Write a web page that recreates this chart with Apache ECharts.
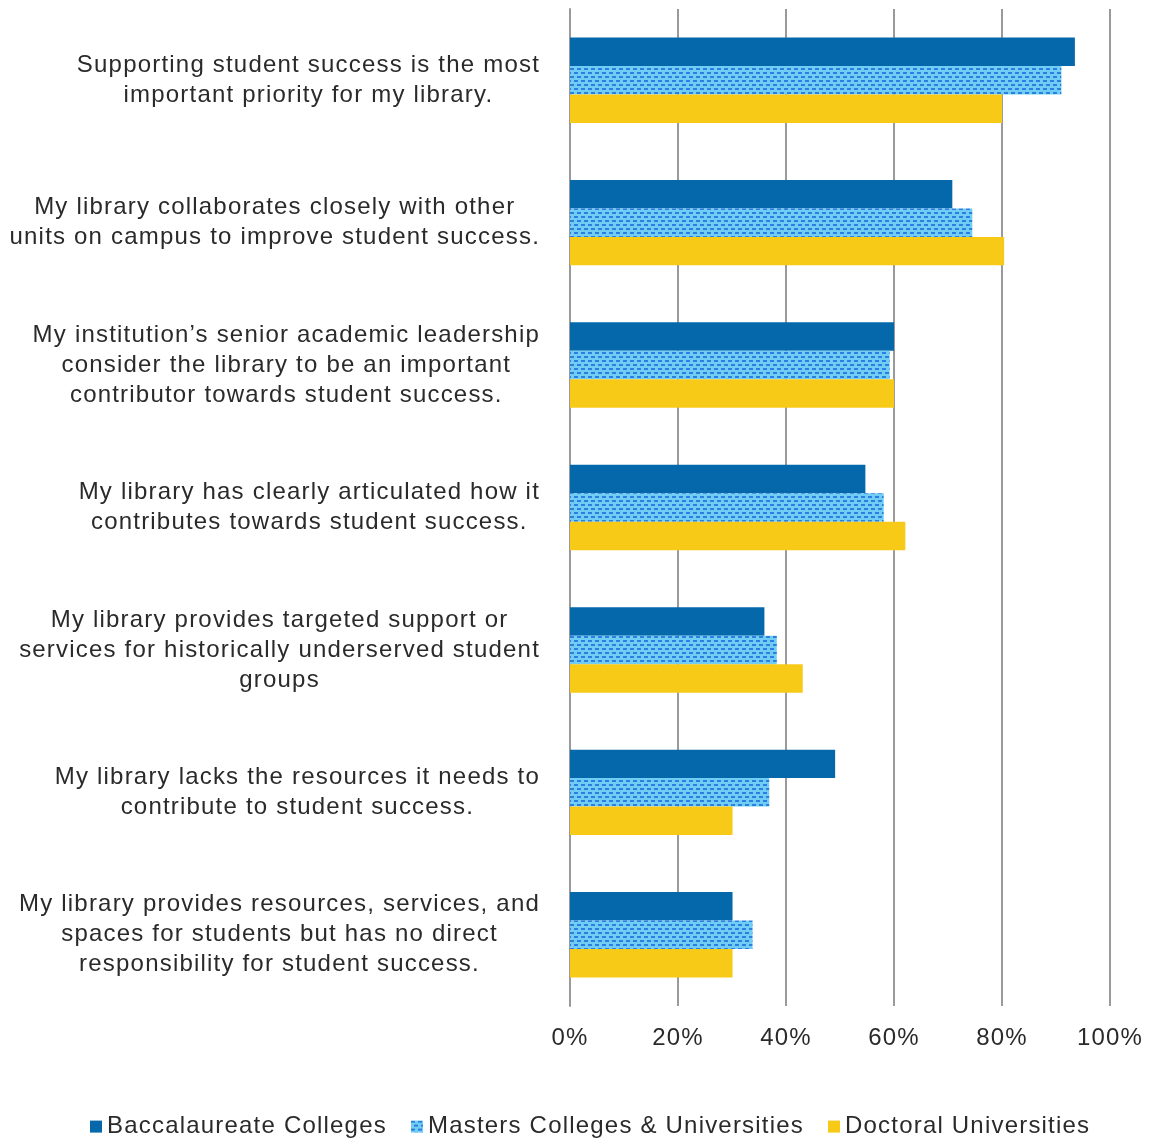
<!DOCTYPE html>
<html><head><meta charset="utf-8">
<script src="https://cdn.jsdelivr.net/npm/echarts@6/dist/echarts.min.js"></script>
<style>html,body{margin:0;padding:0;background:#fff}#c{width:1151px;height:1141px}</style>
</head><body><div id="c"></div>
<script>
const categories = [
  "Supporting student success is the most\nimportant priority for my library.",
  "My library collaborates closely with other\nunits on campus to improve student success.",
  "My institution\u2019s senior academic leadership\nconsider the library to be an important\ncontributor towards student success.",
  "My library has clearly articulated how it\ncontributes towards student success.",
  "My library provides targeted support or\nservices for historically underserved student\ngroups",
  "My library lacks the resources it needs to\ncontribute to student success.",
  "My library provides resources, services, and\nspaces for students but has no direct\nresponsibility for student success."
];
const seriesNames = ["Baccalaureate Colleges", "Masters Colleges & Universities", "Doctoral Universities"];
const baccalaureate = [93.5, 70.8, 60.0, 54.7, 36.0, 49.1, 30.1];
const masters = [91.0, 74.5, 59.2, 58.1, 38.3, 36.9, 33.8];
const doctoral = [80.0, 80.4, 60.0, 62.1, 43.1, 30.1, 30.1];
const xTicks = [0, 20, 40, 60, 80, 100];

// Excel-like wide letter spacing for all chart text (applied to both measuring and drawing)
(function () {
  const P = CanvasRenderingContext2D.prototype;
  const LS = '1.2px';
  const of = P.fillText, om = P.measureText, os = P.strokeText;
  P.fillText = function () { this.letterSpacing = LS; return of.apply(this, arguments); };
  P.strokeText = function () { this.letterSpacing = LS; return os.apply(this, arguments); };
  P.measureText = function () { this.letterSpacing = LS; return om.apply(this, arguments); };
})();

function makePattern() {
  const c = document.createElement('canvas');
  c.width = 14; c.height = 8;
  const g = c.getContext('2d');
  g.fillStyle = '#72cdf4'; g.fillRect(0, 0, 14, 8);
  g.fillStyle = '#2a7fe0';
  g.fillRect(0, 0, 4, 2);
  g.fillRect(7, 0, 4, 2);
  g.fillRect(3, 4, 4, 2);
  g.fillRect(10, 4, 4, 2);
  return c;
}
const pat = makePattern();

const chart = echarts.init(document.getElementById('c'), null, {renderer: 'canvas'});
const font = '"Liberation Sans", Arial, sans-serif';
const txt = {fontFamily: font, fontSize: 24, color: '#2a2a2a'};
function legendFor(i, left) {
  return {
    data: [seriesNames[i]], left: left, top: 1109,
    itemWidth: 12, itemHeight: 12, itemGap: 5, icon: 'rect',
    textStyle: Object.assign({}, txt)
  };
}
chart.setOption({
  animation: false,
  grid: {left: 570, right: 41, top: 9, bottom: 135, containLabel: false},
  legend: [legendFor(0, 85), legendFor(1, 406), legendFor(2, 823)],
  xAxis: {
    type: 'value', min: 0, max: 100, interval: 20,
    axisLine: {show: false}, axisTick: {show: false},
    splitLine: {lineStyle: {color: '#9a9a9a', width: 2}},
    axisLabel: Object.assign({formatter: v => xTicks.includes(v) ? v + '%' : '', margin: 20}, txt)
  },
  yAxis: {
    type: 'category', inverse: true, data: categories,
    axisLine: {show: true, lineStyle: {color: '#9a9a9a', width: 2}},
    axisTick: {show: false},
    axisLabel: Object.assign({
      margin: 30, align: 'right', lineHeight: 30,
      formatter: v => v.split('\n').map(l => '{c|' + l + '}').join('\n'),
      rich: {c: Object.assign({align: 'center', lineHeight: 30}, txt)}
    }, txt)
  },
  series: [
    {name: seriesNames[0], type: 'bar', data: baccalaureate, barGap: '0%', barCategoryGap: '40%',
     itemStyle: {color: '#0568ab'}},
    {name: seriesNames[1], type: 'bar', data: masters, barGap: '0%', barCategoryGap: '40%',
     itemStyle: {color: {image: pat, repeat: 'repeat'}}},
    {name: seriesNames[2], type: 'bar', data: doctoral, barGap: '0%', barCategoryGap: '40%',
     itemStyle: {color: '#f7ca18'}}
  ]
});
</script></body></html>
